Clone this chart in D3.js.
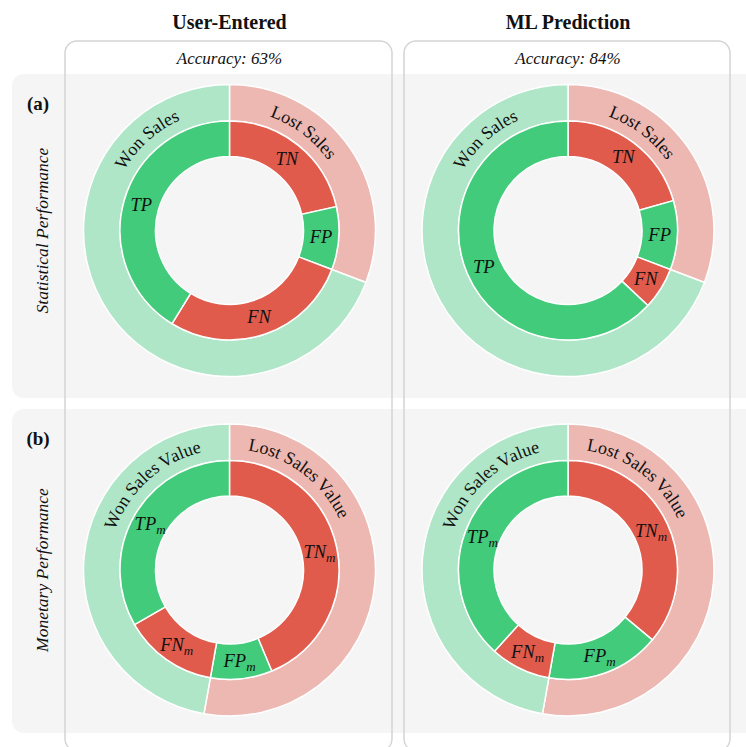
<!DOCTYPE html>
<html>
<head>
<meta charset="utf-8">
<script src="https://cdn.jsdelivr.net/npm/d3@7"></script>
<style>
  html, body { margin: 0; padding: 0; background: #ffffff; }
  svg { display: block; }
  text { font-family: "Liberation Serif", "Times New Roman", serif; fill: #111; }
</style>
</head>
<body>
<svg id="chart" width="746" height="747"></svg>
<script>
// ---- data -----------------------------------------------------------------
const columns = ["User-Entered", "ML Prediction"];
const accuracy = [63, 84];                       // percent
const rowTags = ["(a)", "(b)"];
const rowTitles = ["Statistical Performance", "Monetary Performance"];
const outerNames = [["Lost Sales", "Won Sales"], ["Lost Sales Value", "Won Sales Value"]];
const innerKeys = ["TN", "FP", "FN", "TP"];      // clockwise from 12 o'clock
const innerSub = ["", "m"];                      // subscript per row

// shares of each cell (percent), order TN, FP, FN, TP
const statUser = [21.5, 9.3, 28.0, 41.2];
const statML   = [20.6, 10.2, 6.2, 63.0];
const monUser  = [43.7, 9.1, 13.9, 33.3];
const monML    = [36.0, 16.8, 8.9, 38.3];
const shares = [[statUser, statML], [monUser, monML]];

// ---- layout ---------------------------------------------------------------
const svg = d3.select("#chart");
const colX = d3.scaleOrdinal().domain([0, 1]).range([229.5, 568]);
const rowY = d3.scaleOrdinal().domain([0, 1]).range([230.5, 570]);

const colors = {
  TN: "#e15b4c", FN: "#e15b4c", FP: "#42cb7b", TP: "#42cb7b",
  lost: "#edb8b2", won: "#aee6c7"
};

const rHole = 74, rMid = 109.5, rOuter = 146;
const innerArc = d3.arc().innerRadius(rHole).outerRadius(rMid);
const outerArc = d3.arc().innerRadius(rMid).outerRadius(rOuter);
const pie = d3.pie().sort(null).value(d => d).startAngle(0).endAngle(2 * Math.PI);

// outer label centre angles (radians, clockwise from top)
const lostLabelAngle = 37 * Math.PI / 180;
const wonLabelAngle = -42 * Math.PI / 180;
const labelRadius = 121;
const labelFont = 18;

// row panels
const panels = [[74, 398], [409, 733]];
svg.selectAll("rect.panel").data(panels).join("rect")
  .attr("class", "panel")
  .attr("x", 12).attr("y", d => d[0])
  .attr("width", 760).attr("height", d => d[1] - d[0])
  .attr("rx", 12).attr("fill", "#f5f5f5");

// column frames
const frames = [[65, 392], [404, 730]];
svg.selectAll("rect.frame").data(frames).join("rect")
  .attr("class", "frame")
  .attr("x", d => d[0]).attr("y", 41)
  .attr("width", d => d[1] - d[0]).attr("height", 710)
  .attr("rx", 12).attr("fill", "none")
  .attr("stroke", "#d4d4d4").attr("stroke-width", 1.5);

// column headers
svg.selectAll("text.col").data(columns).join("text")
  .attr("class", "col")
  .attr("x", (d, i) => colX(i)).attr("y", 22)
  .attr("text-anchor", "middle").attr("dominant-baseline", "central")
  .style("font-weight", "bold").style("font-size", "20px")
  .text(d => d);

svg.selectAll("text.acc").data(accuracy).join("text")
  .attr("class", "acc")
  .attr("x", (d, i) => colX(i)).attr("y", 58)
  .attr("text-anchor", "middle").attr("dominant-baseline", "central")
  .style("font-style", "italic").style("font-size", "17px")
  .text(d => `Accuracy: ${d}%`);

// row tags and titles
svg.selectAll("text.tag").data(rowTags).join("text")
  .attr("class", "tag")
  .attr("x", 38).attr("y", (d, i) => i === 0 ? 103 : 438)
  .attr("text-anchor", "middle").attr("dominant-baseline", "central")
  .style("font-weight", "bold").style("font-size", "19px")
  .text(d => d);

svg.selectAll("text.rowtitle").data(rowTitles).join("text")
  .attr("class", "rowtitle")
  .attr("transform", (d, i) => `translate(42,${rowY(i)}) rotate(-90)`)
  .attr("text-anchor", "middle").attr("dominant-baseline", "central")
  .style("font-style", "italic").style("font-size", "17.5px")
  .text(d => d);

// ---- donuts ---------------------------------------------------------------
function pt(r, a) { return [r * Math.sin(a), -r * Math.cos(a)]; }

// lay a string out glyph by glyph along a circle, centred on angle `a`
function curvedLabel(g, str, a, r) {
  const probe = g.append("text").style("font-size", labelFont + "px")
    .attr("xml:space", "preserve").style("white-space", "pre").text(str);
  const node = probe.node();
  const total = node.getComputedTextLength();
  const chars = Array.from(str).map((ch, i) => {
    const s = node.getStartPositionOfChar(i).x;
    const e = node.getEndPositionOfChar(i).x;
    return { ch, mid: (s + e) / 2 };
  });
  probe.remove();
  g.selectAll(null).data(chars.filter(c => c.ch !== " ")).join("text")
    .style("font-size", labelFont + "px")
    .attr("text-anchor", "middle")
    .attr("transform", c => {
      const ang = a + (c.mid - total / 2) / r;
      const p = pt(r, ang);
      return `translate(${p[0]},${p[1]}) rotate(${ang * 180 / Math.PI})`;
    })
    .text(c => c.ch);
}

shares.forEach((rowShares, ri) => {
  rowShares.forEach((vals, ci) => {
    const g = svg.append("g").attr("transform", `translate(${colX(ci)},${rowY(ri)})`);
    const outerVals = [vals[0] + vals[1], vals[2] + vals[3]]; // lost, won
    const outerKeys = ["lost", "won"];

    g.selectAll("path.outer").data(pie(outerVals)).join("path")
      .attr("class", "outer")
      .attr("d", outerArc)
      .attr("fill", (d, i) => colors[outerKeys[i]])
      .attr("stroke", "#ffffff").attr("stroke-width", 1.5);

    g.selectAll("path.inner").data(pie(vals)).join("path")
      .attr("class", "inner")
      .attr("d", innerArc)
      .attr("fill", (d, i) => colors[innerKeys[i]])
      .attr("stroke", "#ffffff").attr("stroke-width", 1.5);

    // inner labels at arc centroids
    const lab = g.selectAll("text.in").data(pie(vals)).join("text")
      .attr("class", "in")
      .attr("transform", d => `translate(${innerArc.centroid(d)})`)
      .attr("text-anchor", "middle").attr("dominant-baseline", "central")
      .style("font-style", "italic").style("font-size", "18.5px");
    lab.append("tspan").text((d, i) => innerKeys[i]);
    if (innerSub[ri]) {
      lab.append("tspan").attr("dy", 5).style("font-size", "13px").text(innerSub[ri]);
    }

    // curved outer labels
    const angles = [lostLabelAngle, wonLabelAngle];
    outerNames[ri].forEach((name, k) => curvedLabel(g, name, angles[k], labelRadius));
  });
});
</script>
</body>
</html>
